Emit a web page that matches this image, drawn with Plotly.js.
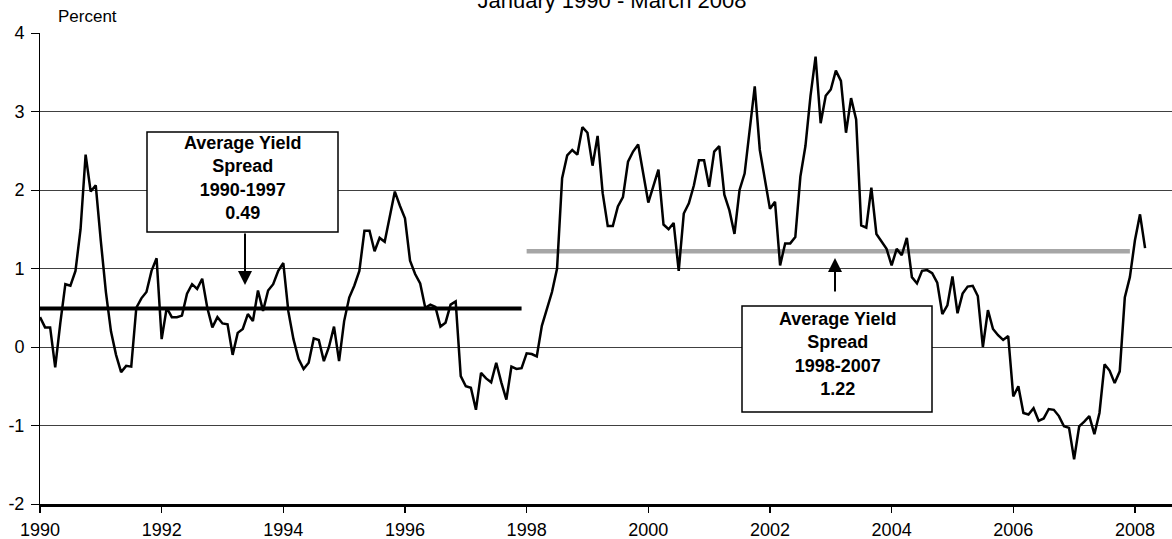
<!DOCTYPE html>
<html><head><meta charset="utf-8">
<script src="https://cdn.plot.ly/plotly-3.0.1.min.js"></script>
<style>html,body{margin:0;padding:0;background:#fff}#chart{width:1172px;height:539px}</style>
</head><body><div id="chart"></div>
<script>
// Monthly yield spread (percent), January 1990 - March 2008
const firstMonth = '1990-01';
const spread = [
  // 1990
  0.38, 0.25, 0.25, -0.26, 0.30, 0.80, 0.78, 0.97, 1.50, 2.45, 1.98, 2.06,
  // 1991
  1.35, 0.70, 0.20, -0.10, -0.32, -0.24, -0.25, 0.50, 0.62, 0.70, 0.97, 1.13,
  // 1992
  0.10, 0.50, 0.38, 0.38, 0.40, 0.68, 0.80, 0.74, 0.87, 0.50, 0.25, 0.38,
  // 1993
  0.30, 0.29, -0.10, 0.18, 0.23, 0.42, 0.33, 0.72, 0.46, 0.72, 0.80, 0.97,
  // 1994
  1.07, 0.45, 0.10, -0.15, -0.28, -0.20, 0.11, 0.09, -0.18, 0.00, 0.26, -0.18,
  // 1995
  0.33, 0.63, 0.78, 0.97, 1.48, 1.48, 1.22, 1.39, 1.34, 1.68, 1.98, 1.80,
  // 1996
  1.64, 1.10, 0.93, 0.81, 0.50, 0.54, 0.51, 0.26, 0.31, 0.54, 0.58, -0.37,
  // 1997
  -0.50, -0.52, -0.80, -0.33, -0.40, -0.45, -0.20, -0.45, -0.67, -0.25, -0.28, -0.27,
  // 1998
  -0.08, -0.09, -0.12, 0.27, 0.50, 0.70, 1.00, 2.15, 2.44, 2.51, 2.45, 2.80,
  // 1999
  2.73, 2.31, 2.69, 1.96, 1.54, 1.54, 1.79, 1.91, 2.36, 2.49, 2.58, 2.22,
  // 2000
  1.84, 2.05, 2.26, 1.56, 1.50, 1.58, 0.97, 1.70, 1.83, 2.06, 2.38, 2.38,
  // 2001
  2.04, 2.49, 2.56, 1.94, 1.74, 1.44, 2.00, 2.21, 2.77, 3.32, 2.51, 2.14,
  // 2002
  1.76, 1.85, 1.04, 1.32, 1.32, 1.40, 2.17, 2.56, 3.20, 3.70, 2.85, 3.20,
  // 2003
  3.28, 3.52, 3.39, 2.73, 3.17, 2.90, 1.55, 1.52, 2.03, 1.44, 1.34, 1.25,
  // 2004
  1.04, 1.25, 1.17, 1.39, 0.89, 0.81, 0.97, 0.98, 0.94, 0.82, 0.42, 0.53,
  // 2005
  0.90, 0.43, 0.68, 0.77, 0.78, 0.65, 0.00, 0.47, 0.23, 0.15, 0.09, 0.14,
  // 2006
  -0.63, -0.50, -0.84, -0.86, -0.78, -0.94, -0.91, -0.79, -0.80, -0.88, -1.01, -1.03,
  // 2007
  -1.43, -1.01, -0.95, -0.88, -1.11, -0.84, -0.22, -0.30, -0.46, -0.31, 0.63, 0.89,
  // 2008
  1.36, 1.69, 1.26
];
const avgLabels = ['1990-1997', '1998-2007'];
const avgValues = [0.49, 1.22];
const avgFrom = ['1990-01', '1998-01'];
const avgTo = ['1997-12', '2007-12'];
const tickYears = [1990, 1992, 1994, 1996, 1998, 2000, 2002, 2004, 2006, 2008];
const tickText = tickYears.map(String);
const yTicks = [-2, -1, 0, 1, 2, 3, 4];
const yTickText = yTicks.map(String);

function ym(s) { const p = s.split('-').map(Number); return p[0] + (p[1] - 1) / 12; }
const x0 = ym(firstMonth);
const xs = spread.map((_, i) => x0 + i / 12);

// geometry
const W = 1172, H = 539;
const M = {l: 40, r: 0, t: 33, b: 35};
const PW = W - M.l - M.r, PH = H - M.t - M.b;
const pxPerYear = 60.83;
const xRange = [1990, 1990 + PW / pxPerYear];
const yRange = [-2, 4];
const FONT = 'Arial, "Liberation Sans", sans-serif';
function px2paperX(px) { return (px - M.l) / PW; }
function px2paperY(py) { return (M.t + PH - py) / PH; }
function px2x(px) { return xRange[0] + (px - M.l) / PW * (xRange[1] - xRange[0]); }
function py2y(py) { return yRange[0] + (M.t + PH - py) / PH * (yRange[1] - yRange[0]); }

const traces = [
  {x: [ym(avgFrom[0]), ym(avgTo[0])], y: [avgValues[0], avgValues[0]], mode: 'lines',
   line: {color: '#000000', width: 4}, hoverinfo: 'skip'},
  {x: [ym(avgFrom[1]), ym(avgTo[1])], y: [avgValues[1], avgValues[1]], mode: 'lines',
   line: {color: '#a6a6a6', width: 4.5}, hoverinfo: 'skip'},
  {x: xs, y: spread, mode: 'lines', line: {color: '#000000', width: 2.5}}
];

const boxes = [
  {x0: 147, x1: 338, y0: 132, y1: 232, textY: 178, label: avgLabels[0], value: avgValues[0],
   arrowX: 245, tailY: 232, headY: 285},
  {x0: 742, x1: 932, y0: 306, y1: 412, textY: 354, label: avgLabels[1], value: avgValues[1],
   arrowX: 835, tailY: 293, headY: 258}
];

const shapes = boxes.map(b => ({
  type: 'rect', xref: 'paper', yref: 'paper', layer: 'above',
  x0: px2paperX(b.x0), x1: px2paperX(b.x1), y0: px2paperY(b.y1), y1: px2paperY(b.y0),
  line: {color: '#000000', width: 1.5}, fillcolor: '#ffffff'
}));

const annotations = [];
boxes.forEach(b => {
  annotations.push({
    xref: 'paper', yref: 'paper', x: px2paperX((b.x0 + b.x1) / 2), y: px2paperY(b.textY),
    xanchor: 'center', yanchor: 'middle', showarrow: false, align: 'center',
    text: '<b>Average Yield<br>Spread<br>' + b.label + '<br>' + b.value.toFixed(2) + '</b>',
    font: {family: FONT, size: 18, color: '#000000'}
  });
  annotations.push({
    xref: 'x', yref: 'y', x: px2x(b.arrowX), y: py2y(b.headY),
    ax: 0, ay: b.tailY - b.headY, axref: 'pixel', ayref: 'pixel',
    text: '', showarrow: true, arrowhead: 2, arrowsize: 1.4, arrowwidth: 2, arrowcolor: '#000000'
  });
});
annotations.push({
  xref: 'paper', yref: 'paper', x: px2paperX(87), y: px2paperY(16),
  xanchor: 'center', yanchor: 'middle', showarrow: false,
  text: 'Percent', font: {family: FONT, size: 17, color: '#000000'}
});

const layout = {
  width: W, height: H, margin: M,
  paper_bgcolor: '#ffffff', plot_bgcolor: '#ffffff',
  showlegend: false,
  title: {text: 'January 1990 - March 2008', font: {family: FONT, size: 22, color: '#000000'},
          xref: 'container', yref: 'container', x: 612 / W, y: 1.0, xanchor: 'center', yanchor: 'middle'},
  xaxis: {range: xRange, tickvals: tickYears, ticktext: tickText, showgrid: false, zeroline: false,
          showline: true, linecolor: '#000000', linewidth: 3, ticks: 'outside', ticklen: 6, tickwidth: 1.5,
          tickcolor: '#000000', ticklabelstandoff: 1, tickfont: {family: FONT, size: 18, color: '#000000'}},
  yaxis: {range: yRange, tickvals: yTicks, ticktext: yTickText, showgrid: true, gridcolor: '#404040', gridwidth: 1,
          zeroline: false, showline: true, linecolor: '#000000', linewidth: 1, ticks: 'outside', ticklen: 8,
          tickcolor: '#000000', ticklabelstandoff: 3, tickfont: {family: FONT, size: 18, color: '#000000'}},
  shapes: shapes, annotations: annotations
};

Plotly.newPlot('chart', traces, layout, {staticPlot: true, displayModeBar: false});
</script>
</body></html>
